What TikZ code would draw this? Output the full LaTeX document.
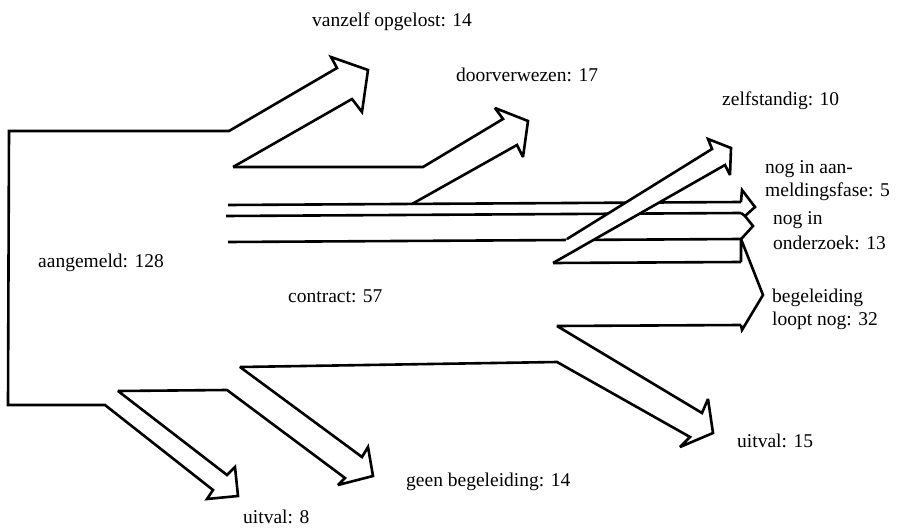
\documentclass[tikz,border=0pt]{standalone}
\usepackage{fontspec}
\setmainfont{Liberation Serif}
\begin{document}
\begin{tikzpicture}[x=1pt,y=-1pt,
  flow/.style={line width=2.6pt, line join=miter, miter limit=3, line cap=butt},
  lbl/.style={anchor=base west, inner sep=0pt, font=\fontsize{19.5}{23}\selectfont}]
\useasboundingbox (0,0) rectangle (912,529);

% parallel bands towards the right-hand heads
\draw[flow] (228,205) -- (741,202);
\draw[flow] (226,216) -- (741,213);
\draw[flow] (228,242) -- (741,239);
\draw[flow] (553,263) -- (741,262);

% heads of the three right-hand bands
\draw[flow] (741,202) -- (742,190) -- (755,207) -- (745,216) -- (741,213);
\draw[flow] (745,216) -- (753,226) -- (743,237) -- (741,239);
\draw[flow] (741,262) -- (741,239) -- (763,295) -- (742,330) -- (741,325);

% zelfstandig: crosses over the bands
\fill[white] (567,239) -- (712,149) -- (708,139) -- (731,148) -- (730,175) -- (725,165) -- (553,263) -- cycle;
\draw[flow] (567,239) -- (712,149) -- (708,139) -- (731,148) -- (730,175) -- (725,165) -- (553,263);

% outer outline: vanzelf opgelost, aangemeld, uitval, geen begeleiding, contract
\draw[flow] (233,167) -- (352,99) -- (362,112) -- (368,70) -- (331,57) -- (337,68)
  -- (229,131) -- (9,131) -- (8,405) -- (105,405)
  -- (213,490) -- (207,499) -- (238,496) -- (235,467) -- (227,475)
  -- (118,391) -- (227,390)
  -- (345,478) -- (338,485) -- (373,476) -- (368,447) -- (362,457)
  -- (240,367) -- (557,362)
  -- (690,437) -- (680,447) -- (713,433) -- (708,399) -- (702,413)
  -- (557,326) -- (741,325);

% doorverwezen
\draw[flow] (233,167) -- (423,167) -- (503,119) -- (495,108) -- (528,121)
  -- (523,157) -- (517,145) -- (412,204);

% labels
\node[lbl] (vanzelf) at (312,27) {vanzelf opgelost: 14};
\node[lbl] (door) at (456,82) {doorverwezen: 17};
\node[lbl] (zelf) at (722,106) {zelfstandig: 10};
\node[lbl] (aanm1) at (765,174) {nog in aan-};
\node[lbl] (aanm2) at (765,197) {meldingsfase: 5};
\node[lbl] (onder1) at (773,225) {nog in};
\node[lbl] (onder2) at (773,250) {onderzoek: 13};
\node[lbl] (begel1) at (772,302) {begeleiding};
\node[lbl] (begel2) at (772,325) {loopt nog: 32};
\node[lbl] (aangemeld) at (38,267) {aangemeld: 128};
\node[lbl] (contract) at (288,302) {contract: 57};
\node[lbl] (uitval15) at (737,447) {uitval: 15};
\node[lbl] (geen) at (406,486) {geen begeleiding: 14};
\node[lbl] (uitval8) at (243,523) {uitval: 8};
\end{tikzpicture}
\end{document}
